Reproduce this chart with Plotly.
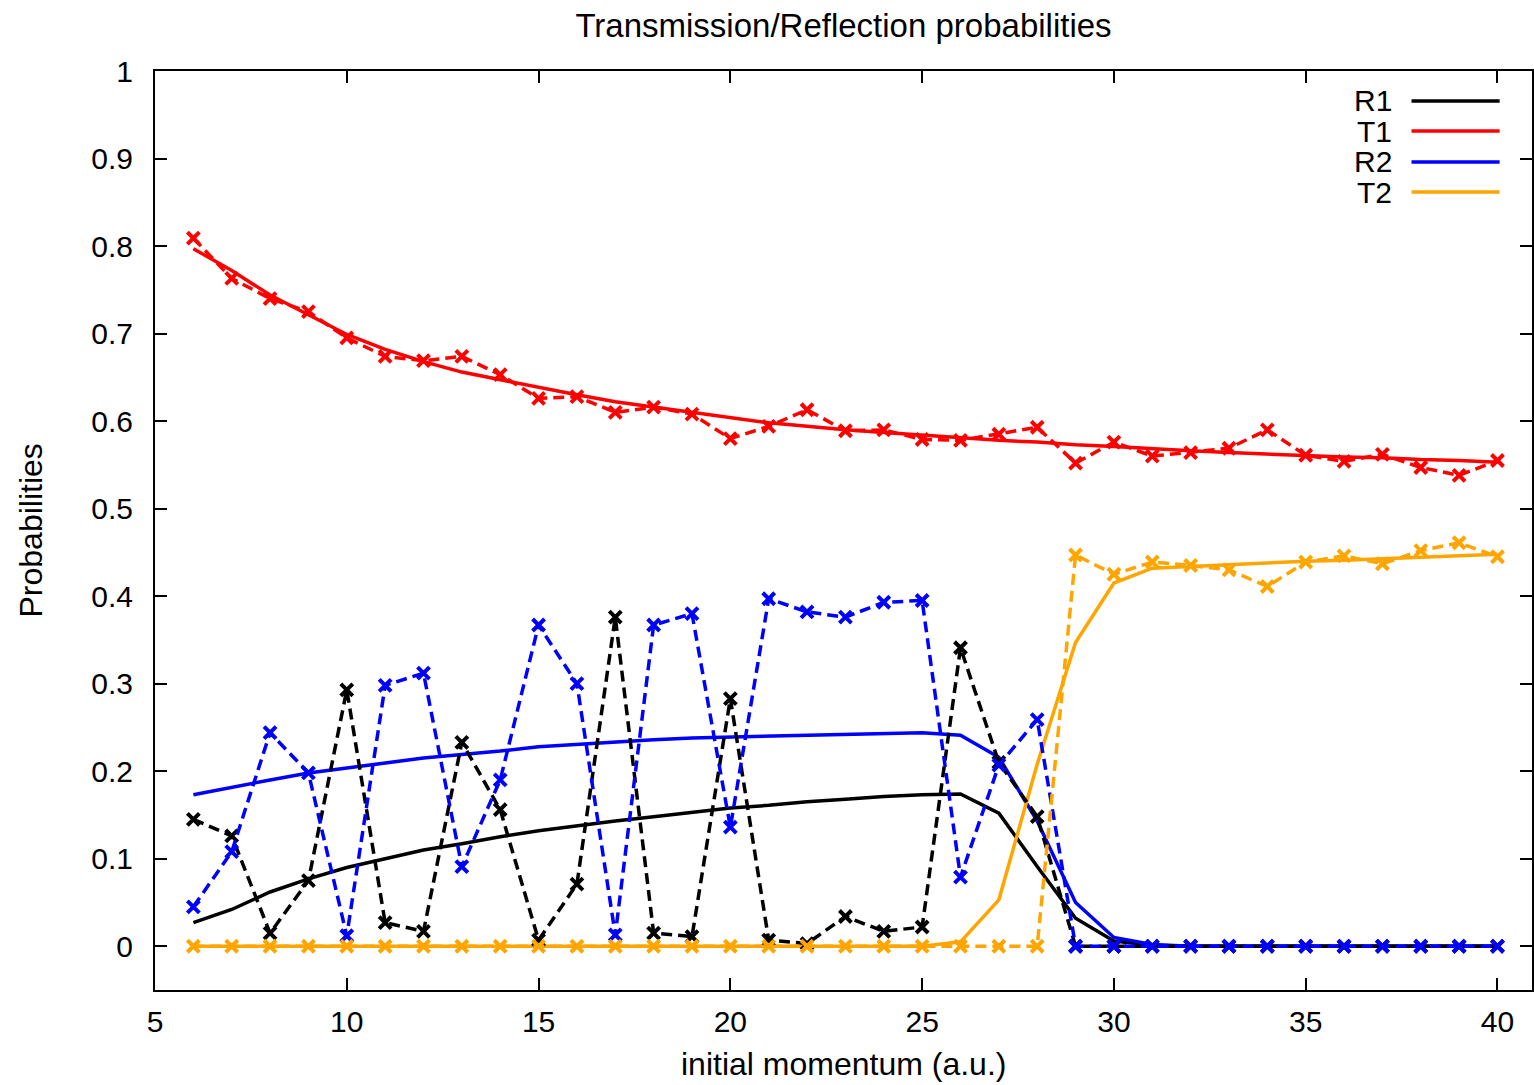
import plotly.graph_objects as go

# ---- data ----
momentum = list(range(6, 41))

r1_data = [0.145, 0.126, 0.015, 0.075, 0.293, 0.027, 0.017, 0.233, 0.156, 0.007,
           0.071, 0.376, 0.015, 0.011, 0.283, 0.007, 0.003, 0.034, 0.017, 0.022,
           0.341, 0.210, 0.148, 0.0, 0.0, 0.0, 0.0, 0.0, 0.0, 0.0,
           0.0, 0.0, 0.0, 0.0, 0.0]
t1_data = [0.809, 0.763, 0.740, 0.725, 0.695, 0.674, 0.669, 0.674, 0.653, 0.626,
           0.628, 0.610, 0.616, 0.608, 0.580, 0.594, 0.613, 0.589, 0.590, 0.579,
           0.578, 0.585, 0.593, 0.552, 0.576, 0.560, 0.564, 0.569, 0.590, 0.561,
           0.554, 0.562, 0.547, 0.538, 0.555]
r2_data = [0.045, 0.108, 0.244, 0.198, 0.012, 0.298, 0.312, 0.091, 0.190, 0.367,
           0.300, 0.013, 0.367, 0.380, 0.136, 0.397, 0.382, 0.376, 0.393, 0.395,
           0.079, 0.207, 0.259, 0.0, 0.0, 0.0, 0.0, 0.0, 0.0, 0.0,
           0.0, 0.0, 0.0, 0.0, 0.0]
t2_data = [0.0, 0.0, 0.0, 0.0, 0.0, 0.0, 0.0, 0.0, 0.0, 0.0,
           0.0, 0.0, 0.0, 0.0, 0.0, 0.0, 0.0, 0.0, 0.0, 0.0,
           0.0, 0.0, 0.0, 0.447, 0.425, 0.439, 0.435, 0.430, 0.411, 0.439,
           0.446, 0.437, 0.452, 0.461, 0.445]

r1_fit = [0.027, 0.042, 0.062, 0.077, 0.090, 0.100, 0.110, 0.117, 0.125, 0.132,
          0.138, 0.143, 0.148, 0.153, 0.158, 0.161, 0.165, 0.168, 0.171, 0.173,
          0.174, 0.152, 0.091, 0.032, 0.006, 0.001, 0.0, 0.0, 0.0, 0.0,
          0.0, 0.0, 0.0, 0.0, 0.0]
t1_fit = [0.797, 0.772, 0.744, 0.721, 0.699, 0.682, 0.668, 0.656, 0.647, 0.638,
          0.630, 0.622, 0.616, 0.609, 0.603, 0.598, 0.594, 0.590, 0.587, 0.584,
          0.581, 0.578, 0.576, 0.573, 0.571, 0.568, 0.566, 0.564, 0.562, 0.560,
          0.559, 0.558, 0.556, 0.555, 0.553]
r2_fit = [0.173, 0.182, 0.190, 0.198, 0.204, 0.210, 0.215, 0.219, 0.223, 0.228,
          0.231, 0.234, 0.236, 0.238, 0.239, 0.240, 0.241, 0.242, 0.243, 0.244,
          0.241, 0.216, 0.143, 0.050, 0.010, 0.002, 0.0, 0.0, 0.0, 0.0,
          0.0, 0.0, 0.0, 0.0, 0.0]
t2_fit = [0.0, 0.0, 0.0, 0.0, 0.0, 0.0, 0.0, 0.0, 0.0, 0.0,
          0.0, 0.0, 0.0, 0.0, 0.0, 0.0, 0.0, 0.0, 0.0, 0.0,
          0.005, 0.053, 0.208, 0.347, 0.415, 0.432, 0.434, 0.436, 0.438, 0.440,
          0.441, 0.443, 0.445, 0.446, 0.448]

names = ["R1", "T1", "R2", "T2"]
colors = ["#000000", "#ff0000", "#0000ff", "#ffa500"]
fits = [r1_fit, t1_fit, r2_fit, t2_fit]
datas = [r1_data, t1_data, r2_data, t2_data]

x_ticks = [5, 10, 15, 20, 25, 30, 35, 40]
y_ticks = [0, 0.1, 0.2, 0.3, 0.4, 0.5, 0.6, 0.7, 0.8, 0.9, 1]

FONT = "Liberation Sans, Arial, sans-serif"
FS = 30
FS_BIG = 33

fig = go.Figure()
for name, col, ys in zip(names, colors, fits):
    fig.add_trace(go.Scatter(x=momentum, y=ys, mode="lines", name=name,
                             line=dict(color=col, width=3.5), showlegend=False))
for name, col, ys in zip(names, colors, datas):
    fig.add_trace(go.Scatter(x=momentum, y=ys, mode="lines+markers", name=name + " data",
                             line=dict(color=col, width=3.5, dash="11px,6px"),
                             marker=dict(symbol="x-thin", size=12,
                                         line=dict(color=col, width=4)),
                             showlegend=False))

# manual gnuplot-style key (text right, sample line left->right)
key_rows = [0.9674, 0.9347, 0.9010, 0.8683]
shapes = []
annotations = []
for name, col, yp in zip(names, colors, key_rows):
    annotations.append(dict(xref="paper", yref="paper", x=0.8995, y=yp,
                            text=name, showarrow=False, xanchor="right", yanchor="middle",
                            font=dict(family=FONT, size=FS, color="#000")))
    shapes.append(dict(type="line", xref="paper", yref="paper",
                       x0=0.9125, x1=0.9765, y0=yp, y1=yp,
                       line=dict(color=col, width=3.5)))

annotations.append(dict(xref="paper", yref="paper", x=0.5, y=0, yshift=-74,
                        text="initial momentum (a.u.)", showarrow=False,
                        xanchor="center", yanchor="middle",
                        font=dict(family=FONT, size=FS_BIG - 1, color="#000")))
annotations.append(dict(xref="paper", yref="paper", x=0, y=0.5, xshift=-125,
                        text="Probabilities", showarrow=False, textangle=-90,
                        xanchor="center", yanchor="middle",
                        font=dict(family=FONT, size=FS_BIG - 1, color="#000")))

fig.update_layout(
    width=1534, height=1085,
    margin=dict(l=155, r=0, t=71, b=95),
    paper_bgcolor="white", plot_bgcolor="white",
    font=dict(family=FONT, size=FS, color="#000"),
    title=dict(text="Transmission/Reflection probabilities", x=0.5, xref="paper",
               y=1 - 25 / 1085, yref="container", xanchor="center", yanchor="middle",
               font=dict(family=FONT, size=FS_BIG, color="#000")),
    shapes=shapes, annotations=annotations,
    xaxis=dict(range=[5, 40.9], tickvals=x_ticks, ticks="inside", ticklen=12,
               tickwidth=2, tickcolor="#000", showline=True, linecolor="#000",
               linewidth=2, mirror="ticks", showgrid=False, zeroline=False,
               ticklabelstandoff=4),
    yaxis=dict(range=[-0.05, 1], tickvals=y_ticks, ticks="inside", ticklen=12,
               tickwidth=2, tickcolor="#000", showline=True, linecolor="#000",
               linewidth=2, mirror="ticks", showgrid=False, zeroline=False,
               ticklabelstandoff=14),
)

fig.write_html("out.html")
